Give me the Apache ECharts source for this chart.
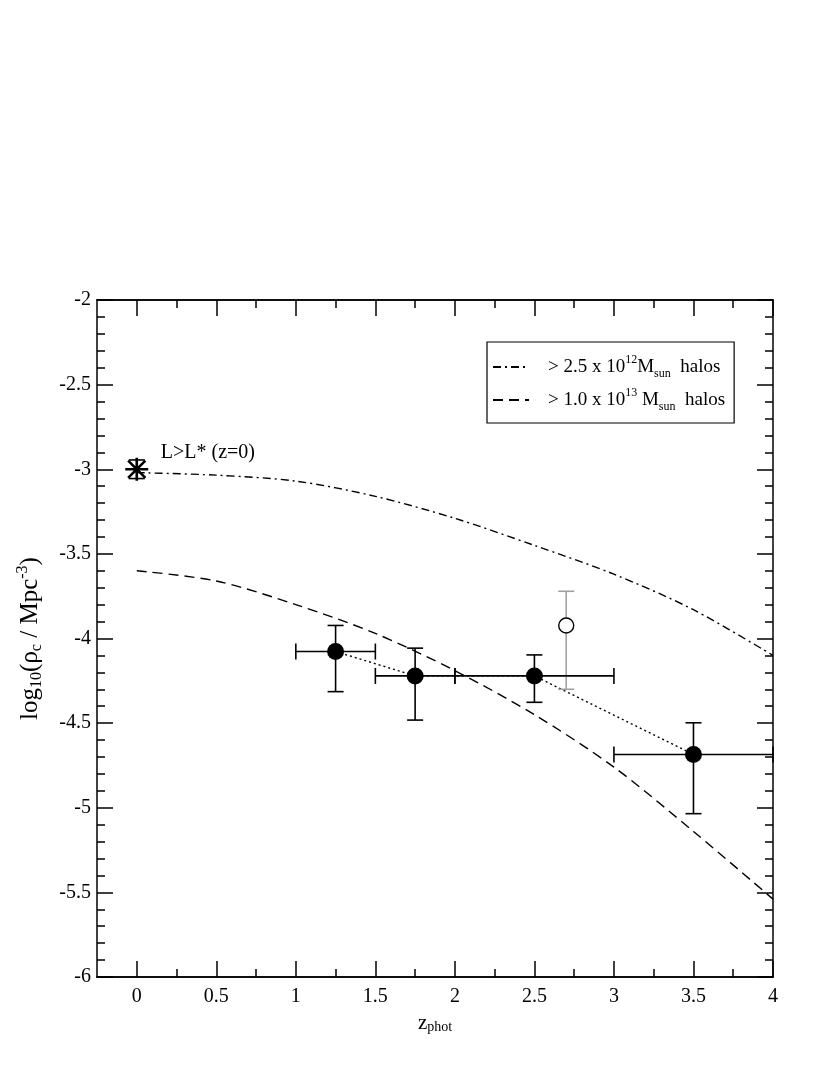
<!DOCTYPE html>
<html>
<head>
<meta charset="utf-8">
<script src="https://cdn.jsdelivr.net/npm/echarts@6.0.0/dist/echarts.min.js"></script>
<style>
  html, body { margin: 0; padding: 0; background: #fff; }
  #chart { width: 830px; height: 1075px; }
</style>
</head>
<body>
<div id="chart"></div>
<script>
// measured points (filled circles)
let zPts = [1.25, 1.75, 2.5, 3.5];
let rhoPts = [-4.077, -4.221, -4.221, -4.685];
let zLo = [1.0, 1.5, 2.0, 3.0];
let zHi = [1.5, 2.0, 3.0, 4.0];
let rhoLo = [-4.314, -4.482, -4.377, -5.035];
let rhoHi = [-3.923, -4.057, -4.097, -4.498];

// open (grey) point
let zOpen = [2.7];
let rhoOpen = [-3.923];
let rhoOpenLo = [-4.30];
let rhoOpenHi = [-3.721];

// local L>L* point
let zStar = [0];
let rhoStar = [-3.0];
let rhoStarLo = [-3.055];
let rhoStarHi = [-2.945];

// halo curves
let zCurve = [0, 0.5, 1, 1.5, 2, 2.5, 3, 3.5, 4];
let halo25 = [-3.02, -3.035, -3.07, -3.16, -3.29, -3.45, -3.62, -3.83, -4.10];
let halo100 = [-3.60, -3.66, -3.80, -3.97, -4.19, -4.45, -4.76, -5.14, -5.54];

let xMajor = [0, 0.5, 1, 1.5, 2, 2.5, 3, 3.5, 4];
let xMinor = [0.25, 0.75, 1.25, 1.75, 2.25, 2.75, 3.25, 3.75];

let serif = "'Liberation Serif', 'DejaVu Serif', serif";

let dom = document.getElementById("chart");
let chart = echarts.init(dom);

function zip() {
  let arrs = Array.prototype.slice.call(arguments);
  return arrs[0].map(function(v, i) {
    return arrs.map(function(a) { return a[i]; });
  });
}

let richText = {
  n: { fontFamily: serif, fontSize: 19, lineHeight: 26, color: "#000" },
  sup: { fontFamily: serif, fontSize: 12, lineHeight: 14, verticalAlign: "top", color: "#000" },
  sub: { fontFamily: serif, fontSize: 12, lineHeight: 9, verticalAlign: "bottom", color: "#000" }
};

function errorBars(color) {
  return function(params, api) {
    let x = api.value(0), y = api.value(1);
    let x0 = api.value(2), x1 = api.value(3);
    let y0 = api.value(4), y1 = api.value(5);
    let c = api.coord([x, y]);
    let lo = api.coord([x, y0]);
    let hi = api.coord([x, y1]);
    let cap = 8;
    let st = { stroke: color, lineWidth: 1.6 };
    let kids = [
      { type: "line", shape: { x1: c[0], y1: lo[1], x2: c[0], y2: hi[1] }, style: st },
      { type: "line", shape: { x1: c[0] - cap, y1: lo[1], x2: c[0] + cap, y2: lo[1] }, style: st },
      { type: "line", shape: { x1: c[0] - cap, y1: hi[1], x2: c[0] + cap, y2: hi[1] }, style: st }
    ];
    if (x1 > x0) {
      let l = api.coord([x0, y]);
      let r = api.coord([x1, y]);
      kids.push(
        { type: "line", shape: { x1: l[0], y1: c[1], x2: r[0], y2: c[1] }, style: st },
        { type: "line", shape: { x1: l[0], y1: c[1] - cap, x2: l[0], y2: c[1] + cap }, style: st },
        { type: "line", shape: { x1: r[0], y1: c[1] - cap, x2: r[0], y2: c[1] + cap }, style: st }
      );
    }
    return { type: "group", children: kids };
  };
}

function xAxisOf(pos, values, len, labels) {
  return {
    type: "value",
    position: pos,
    min: -0.25,
    max: 4,
    splitLine: { show: false },
    axisLine: { show: true, onZero: false, lineStyle: { color: "#000", width: 1.5 } },
    axisTick: { show: true, inside: true, length: len, customValues: values, lineStyle: { color: "#000", width: 1.5 } },
    axisLabel: labels
      ? { show: true, customValues: values, margin: 10, color: "#000", fontFamily: serif, fontSize: 20 }
      : { show: false }
  };
}

function yAxisOf(pos, labels) {
  return {
    type: "value",
    position: pos,
    min: -6,
    max: -2,
    interval: 0.5,
    splitLine: { show: false },
    axisLine: { show: true, onZero: false, lineStyle: { color: "#000", width: 1.5 } },
    axisTick: { show: true, inside: true, length: 16, lineStyle: { color: "#000", width: 1.5 } },
    minorTick: { show: true, splitNumber: 5, length: 8, lineStyle: { color: "#000", width: 1.5 } },
    axisLabel: labels
      ? { show: true, margin: 6, color: "#000", fontFamily: serif, fontSize: 20 }
      : { show: false }
  };
}

let xMain = xAxisOf("bottom", xMajor, 16, true);
xMain.name = "z{sub|phot}";
xMain.nameLocation = "middle";
xMain.nameGap = 36;
xMain.nameTextStyle = { fontFamily: serif, fontSize: 21, color: "#000", rich: {
  sub: { fontFamily: serif, fontSize: 14, lineHeight: 10, verticalAlign: "bottom", color: "#000" }
} };

let yMain = yAxisOf("left", true);
yMain.name = "log{sub|10}(ρ{sub|c} / Mpc{sup|-3})";
yMain.nameLocation = "middle";
yMain.nameGap = 52;
yMain.nameRotate = 90;
yMain.nameTextStyle = { fontFamily: serif, fontSize: 25, color: "#000", lineHeight: 30, rich: {
  sub: { fontFamily: serif, fontSize: 16, lineHeight: 12, verticalAlign: "bottom", color: "#000" },
  sup: { fontFamily: serif, fontSize: 16, lineHeight: 16, verticalAlign: "top", color: "#000" }
} };

let legendNames = {
  "halo25": "{n|> 2.5 x 10}{sup|12}{n|M}{sub|sun}{n|  halos}",
  "halo100": "{n|> 1.0 x 10}{sup|13}{n| M}{sub|sun}{n|  halos}"
};

option = {
  animation: false,
  backgroundColor: "#fff",
  grid: { left: 97, right: 57, top: 300, bottom: 98, outerBoundsMode: "none" },
  xAxis: [
    xMain,
    xAxisOf("bottom", xMinor, 8, false),
    xAxisOf("top", xMajor, 16, false),
    xAxisOf("top", xMinor, 8, false)
  ],
  yAxis: [yMain, yAxisOf("right", false)],
  legend: {
    left: 487,
    top: 342,
    orient: "vertical",
    data: ["halo25", "halo100"],
    backgroundColor: "#fff",
    borderColor: "#000",
    borderWidth: 1.2,
    borderRadius: 0,
    padding: [12, 9, 10, 5],
    itemGap: 7,
    itemWidth: 36,
    itemHeight: 14,
    selectedMode: false,
    itemStyle: { opacity: 0 },
    formatter: function(name) { return legendNames[name]; },
    textStyle: { padding: [0, 0, 0, 14], rich: richText }
  },
  series: [
    {
      name: "halo25",
      type: "line",
      data: zip(zCurve, halo25),
      smooth: 0.3,
      showSymbol: false,
      symbol: "none",
      itemStyle: { color: "#000" },
      lineStyle: { color: "#000", width: 1.4, type: [8, 4, 2, 4] },
      z: 2
    },
    {
      name: "halo100",
      type: "line",
      data: zip(zCurve, halo100),
      smooth: 0.3,
      showSymbol: false,
      symbol: "none",
      itemStyle: { color: "#000" },
      lineStyle: { color: "#000", width: 1.4, type: [10, 6] },
      z: 2
    },
    {
      name: "trend",
      type: "line",
      data: zip(zPts, rhoPts),
      symbol: "none",
      lineStyle: { color: "#000", width: 1.4, type: [2, 3] },
      z: 3
    },
    {
      name: "openErr",
      type: "custom",
      renderItem: errorBars("#a0a0a0"),
      data: zip(zOpen, rhoOpen, zOpen, zOpen, rhoOpenLo, rhoOpenHi),
      z: 4
    },
    {
      name: "ptsErr",
      type: "custom",
      renderItem: errorBars("#000"),
      data: zip(zPts, rhoPts, zLo, zHi, rhoLo, rhoHi),
      z: 4
    },
    {
      name: "starErr",
      type: "custom",
      renderItem: errorBars("#000"),
      data: zip(zStar, rhoStar, zStar, zStar, rhoStarLo, rhoStarHi),
      z: 4
    },
    {
      name: "open",
      type: "scatter",
      data: zip(zOpen, rhoOpen),
      symbol: "circle",
      symbolSize: 15,
      itemStyle: { color: "#fff", borderColor: "#000", borderWidth: 1.4, opacity: 1 },
      z: 5
    },
    {
      name: "points",
      type: "scatter",
      data: zip(zPts, rhoPts),
      symbol: "circle",
      symbolSize: 17,
      itemStyle: { color: "#000", opacity: 1 },
      z: 5
    },
    {
      name: "star",
      type: "scatter",
      data: zip(zStar, rhoStar),
      symbol: "path://M0,-10L0,10M-10,0L10,0M-7.5,-7.5L7.5,7.5M-7.5,7.5L7.5,-7.5",
      symbolSize: 23,
      itemStyle: { color: "none", borderColor: "#000", borderWidth: 2.6, opacity: 1 },
      label: {
        show: true,
        position: "right",
        distance: 10,
        offset: [0, -17],
        formatter: "L>L* (z=0)",
        fontFamily: serif,
        fontSize: 20,
        color: "#000"
      },
      z: 6
    }
  ]
};

chart.setOption(option);
</script>
</body>
</html>
